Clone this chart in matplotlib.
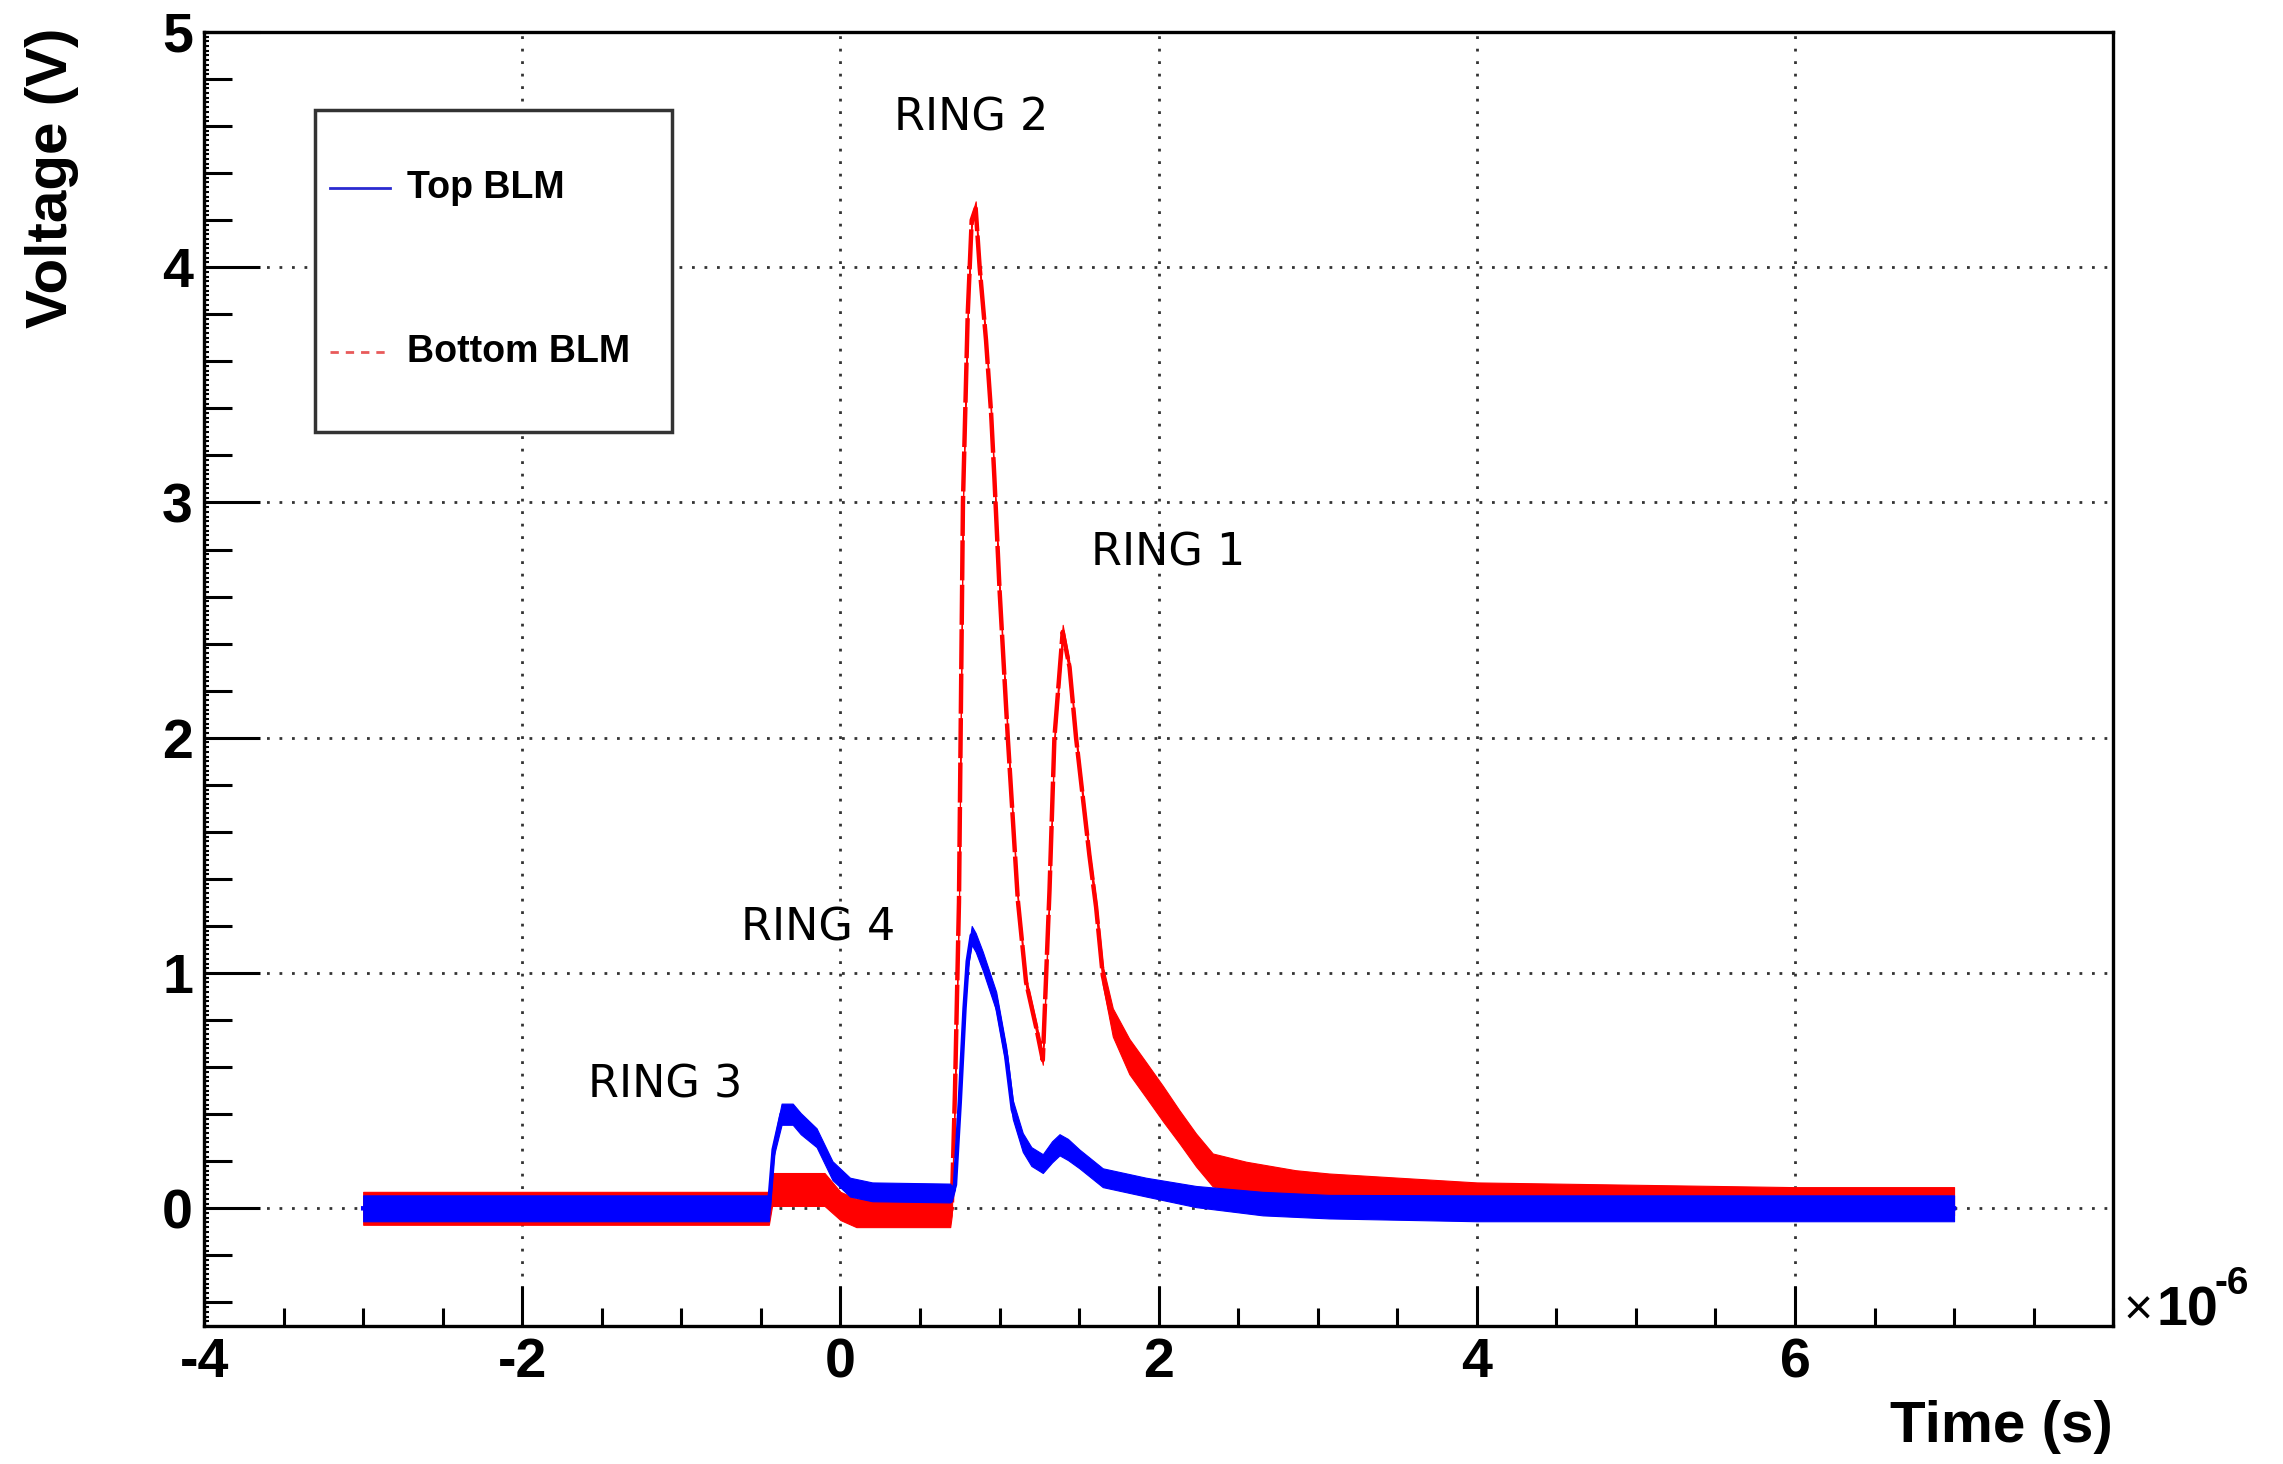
#!/usr/bin/env python3
"""
BLM scope traces: Top BLM vs Bottom BLM, voltage against time (x 1e-6 s).
Noise on the traces is drawn as an envelope band read off the picture.
"""
import matplotlib
matplotlib.use('Agg')
import numpy as np
import matplotlib.pyplot as plt
from matplotlib.ticker import MultipleLocator, FixedLocator
from matplotlib.lines import Line2D
from matplotlib.patches import Rectangle


# Bottom BLM (red): time in us, centre voltage, half-width of the noise band
t_bottom = [-3.0, -0.45, -0.43, -0.10, 0.0, 0.10, 0.69, 0.70, 0.72, 0.745,
            0.77, 0.80, 0.825, 0.85, 0.875, 0.915, 0.947, 0.968, 1.0, 1.052,
            1.115, 1.167, 1.23, 1.272, 1.314, 1.345, 1.397, 1.44, 1.481, 1.565,
            1.607, 1.649, 1.712, 1.816, 1.921, 2.026, 2.13, 2.235, 2.34, 2.55,
            2.86, 3.07, 4.0, 5.0, 6.0, 7.0]
v_bottom = [0.0, 0.0, 0.08, 0.08, 0.01, -0.02, -0.02, 0.0, 0.5, 1.3,
            3.0, 3.8, 4.2, 4.25, 4.0, 3.69, 3.38, 3.1, 2.63, 2.0,
            1.31, 0.96, 0.77, 0.63, 1.35, 2.0, 2.45, 2.3, 2.0, 1.5,
            1.28, 0.99, 0.79, 0.645, 0.546, 0.446, 0.347, 0.248, 0.163, 0.128,
            0.092, 0.078, 0.05, 0.04, 0.03, 0.03]
noise_bottom = [0.07, 0.07, 0.07, 0.07, 0.06, 0.06, 0.06, 0.03, 0.02, 0.02,
                0.02, 0.02, 0.02, 0.03, 0.02, 0.02, 0.02, 0.02, 0.02, 0.02,
                0.02, 0.02, 0.02, 0.02, 0.02, 0.02, 0.03, 0.02, 0.02, 0.02,
                0.03, 0.04, 0.06, 0.075, 0.075, 0.075, 0.07, 0.07, 0.07, 0.07,
                0.07, 0.07, 0.06, 0.06, 0.06, 0.06]

# Top BLM (blue)
t_top = [-3.0, -0.45, -0.42, -0.37, -0.30, -0.25, -0.15, -0.05, 0.06, 0.20,
         0.69, 0.70, 0.72, 0.75, 0.78, 0.80, 0.825, 0.85, 0.895, 0.979,
         1.042, 1.083, 1.146, 1.20, 1.272, 1.33, 1.377, 1.43, 1.502, 1.649,
         1.921, 2.235, 2.654, 3.07, 4.0, 5.0, 6.0, 7.0]
v_top = [0.0, 0.0, 0.25, 0.40, 0.40, 0.36, 0.30, 0.16, 0.09, 0.07,
         0.065, 0.06, 0.10, 0.45, 0.85, 1.05, 1.16, 1.13, 1.05, 0.88,
         0.645, 0.42, 0.28, 0.22, 0.19, 0.24, 0.27, 0.25, 0.21, 0.13,
         0.09, 0.05, 0.02, 0.007, 0.0, 0.0, 0.0, 0.0]
noise_top = [0.055, 0.055, 0.03, 0.045, 0.045, 0.045, 0.04, 0.04, 0.04, 0.04,
             0.04, 0.03, 0.02, 0.02, 0.02, 0.03, 0.04, 0.04, 0.04, 0.04,
             0.04, 0.04, 0.04, 0.04, 0.04, 0.045, 0.045, 0.045, 0.04, 0.04,
             0.04, 0.045, 0.05, 0.05, 0.055, 0.055, 0.055, 0.055]

ring_labels = ['RING 2', 'RING 1', 'RING 4', 'RING 3']
ring_x = [0.82, 2.06, -0.14, -1.10]
ring_y = [4.58, 2.73, 1.14, 0.47]

x_ticks = [-4, -2, 0, 2, 4, 6]
legend_labels = ['Top BLM', 'Bottom BLM']

RED = '#ff0000'
BLUE = '#0000ff'

plt.rcParams['font.family'] = ['Liberation Sans', 'DejaVu Sans']
plt.rcParams['font.weight'] = 'bold'
plt.rcParams['axes.unicode_minus'] = False

fig = plt.figure(figsize=(22.83, 14.64), dpi=100)
ax = fig.add_axes([0.0894, 0.0943, 0.8362, 0.8839])

# traces
tb, vb, nb = np.array(t_bottom), np.array(v_bottom), np.array(noise_bottom)
tt, vt, nt = np.array(t_top), np.array(v_top), np.array(noise_top)

ax.fill_between(tb, vb - nb, vb + nb, color=RED, lw=0.8, zorder=3)
ax.plot(tb, vb, color=RED, lw=3.2, ls=(0, (9, 1.0)), zorder=3)
ax.fill_between(tt, vt - nt, vt + nt, color=BLUE, lw=0.8, zorder=4)
ax.plot(tt, vt, color=BLUE, lw=3.2, zorder=4)

ax.set_xlim(-4, 8)
ax.set_ylim(-0.5, 5)

# ROOT style ticks
ax.xaxis.set_major_locator(FixedLocator(x_ticks))
ax.xaxis.set_minor_locator(MultipleLocator(0.5))
ax.yaxis.set_major_locator(MultipleLocator(1))
ax.yaxis.set_minor_locator(MultipleLocator(0.2))
ax.tick_params(which='both', direction='in', top=False, right=False,
               width=2.2, color='black', pad=8)
ax.tick_params(axis='y', which='major', length=40, labelsize=40)
ax.tick_params(axis='y', which='minor', length=20)
ax.tick_params(axis='x', which='major', length=29, labelsize=40)
ax.tick_params(axis='x', which='minor', length=13)
for sp in ax.spines.values():
    sp.set_linewidth(2.4)
    sp.set_color('black')

ax.grid(True, which='major', ls=(0, (1, 3.5)), lw=2, color='#333333')
ax.set_axisbelow(True)

# tiny third-level ticks on the y axis
ax3 = fig.add_axes(ax.get_position(), frameon=False)
ax3.set_xlim(-4, 8)
ax3.set_ylim(-0.5, 5)
ax3.xaxis.set_visible(False)
ax3.yaxis.set_major_locator(MultipleLocator(0.02))
ax3.tick_params(axis='y', direction='in', length=3.5, width=1.5,
                labelleft=False, left=True, right=False)
ax3.patch.set_visible(False)

# legend box
ax.add_patch(Rectangle((0.0581, 0.691), 0.1869, 0.2487, transform=ax.transAxes,
                       facecolor='white', edgecolor='#333333', lw=2.5, zorder=6))
ax.add_line(Line2D([0.066, 0.0974], [0.8794, 0.8794], transform=ax.transAxes,
                   color='#2a2ad0', lw=2, zorder=7))
ax.add_line(Line2D([0.066, 0.0974], [0.7527, 0.7527], transform=ax.transAxes,
                   color='#e85a5a', lw=2, ls=(0, (3, 2.5)), zorder=7))
ax.text(0.1063, 0.8794, legend_labels[0], transform=ax.transAxes, fontsize=27,
        fontweight='bold', va='center', ha='left', zorder=7)
ax.text(0.1063, 0.7527, legend_labels[1], transform=ax.transAxes, fontsize=27,
        fontweight='bold', va='center', ha='left', zorder=7)

# ring annotations
for lab, x, y in zip(ring_labels, ring_x, ring_y):
    ax.text(x, y, lab, fontsize=32, fontweight='normal', family='DejaVu Sans',
            ha='center', va='baseline', zorder=8)

# axis titles and exponent, placed like ROOT does
fig.text(52 / 2283, 1 - 28 / 1464, 'Voltage (V)', rotation=90, fontsize=42,
         fontweight='bold', ha='center', va='top')
fig.text(2113 / 2283, 1 - 1442 / 1464, 'Time (s)', fontsize=42,
         fontweight='bold', ha='right', va='baseline')
fig.text(2124 / 2283, 1 - 1325 / 1464, '\u00d7', fontsize=36,
         fontweight='normal', ha='left', va='baseline')
fig.text(2156 / 2283, 1 - 1325 / 1464, '10', fontsize=40,
         fontweight='bold', ha='left', va='baseline')
fig.text(2214 / 2283, 1 - 1294 / 1464, '-6', fontsize=28,
         fontweight='bold', ha='left', va='baseline')

fig.savefig('out.png', dpi=100, facecolor='white')
